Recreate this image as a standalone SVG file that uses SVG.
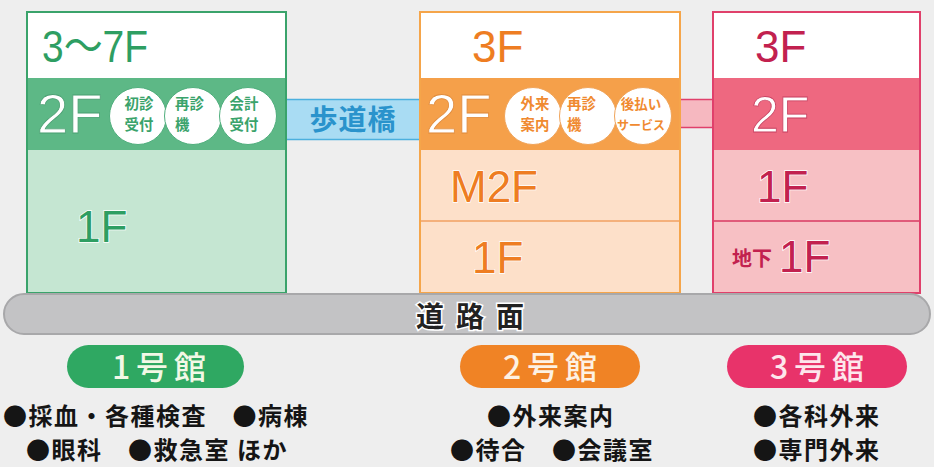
<svg xmlns="http://www.w3.org/2000/svg" width="934" height="467" viewBox="0 0 934 467">
<style>
.lat{font-family:"Liberation Sans","Noto Sans CJK JP",Arial,sans-serif;}
.jp{font-family:"Noto Sans CJK JP","Liberation Sans",sans-serif;}
.fl{font-size:44px;paint-order:stroke;stroke:#ffffff;stroke-width:1.5px;}
.big2{font-size:56px;fill:#ffffff;}
.ctx{font-size:14.4px;font-weight:700;}
.bul{font-size:24px;font-weight:700;fill:#151515;letter-spacing:1.5px;}
.pill{font-size:32px;font-weight:500;letter-spacing:6px;}
</style>
<rect x="0" y="0" width="934" height="467" fill="#eeeeee"/>

<g id="connectors">
  <rect x="286" y="99" width="134" height="41" fill="#a9dcf3"/>
  <line x1="286" y1="99.5" x2="420" y2="99.5" stroke="#4cb0de" stroke-width="1.5"/>
  <line x1="286" y1="139.5" x2="420" y2="139.5" stroke="#4cb0de" stroke-width="1.5"/>
  <text class="jp" x="353" y="130" font-size="28" font-weight="700" fill="#2a93cc" text-anchor="middle" letter-spacing="1">歩道橋</text>
  <rect x="680" y="99" width="33" height="29" fill="#f6b8c0"/>
  <line x1="680" y1="99.5" x2="713" y2="99.5" stroke="#e0406b" stroke-width="1.5"/>
  <line x1="680" y1="127.5" x2="713" y2="127.5" stroke="#e0406b" stroke-width="1.5"/>
</g>

<g id="building1">
  <rect x="27" y="12" width="259" height="281" fill="#c5e6d2"/>
  <rect x="27" y="12" width="259" height="66" fill="#ffffff"/>
  <rect x="27" y="78" width="259" height="72" fill="#5db886"/>
  <rect x="27" y="12" width="259" height="281" fill="none" stroke="#3aa36b" stroke-width="2"/>
  <text class="lat fl" x="42" y="62" fill="#2e9e62" textLength="106" lengthAdjust="spacingAndGlyphs">3〜7F</text>
  <text class="lat big2" x="37" y="133" stroke="#4a9f72" stroke-width="0.8">2F</text>
  <g stroke="#4fae7c" stroke-width="1" fill="#ffffff">
    <circle cx="138" cy="116" r="28.5"/>
    <circle cx="193" cy="116" r="28.5"/>
    <circle cx="248" cy="116" r="28.5"/>
  </g>
  <g class="jp ctx" fill="#3aa36b">
    <text text-anchor="middle"><tspan x="139" y="109">初診</tspan><tspan x="139" y="130">受付</tspan></text>
    <text><tspan x="175" y="109">再診</tspan><tspan x="175" y="130">機</tspan></text>
    <text text-anchor="middle"><tspan x="244" y="109">会計</tspan><tspan x="244" y="130">受付</tspan></text>
  </g>
  <text class="lat fl" x="76" y="242" fill="#2e9e62">1F</text>
</g>

<g id="building2">
  <rect x="420" y="12" width="260" height="281" fill="#fde0c9"/>
  <rect x="420" y="12" width="260" height="66" fill="#ffffff"/>
  <rect x="420" y="78" width="260" height="72" fill="#f5a04a"/>
  <line x1="420" y1="221" x2="680" y2="221" stroke="#f0a060" stroke-width="1.5"/>
  <rect x="420" y="12" width="260" height="281" fill="none" stroke="#f5a54a" stroke-width="2"/>
  <text class="lat fl" x="472" y="62" fill="#ee7d22">3F</text>
  <text class="lat big2" x="426" y="133" stroke="#e08a3a" stroke-width="0.8">2F</text>
  <g stroke="#f0a45a" stroke-width="1" fill="#ffffff">
    <circle cx="533" cy="116" r="28.5"/>
    <circle cx="588" cy="116" r="28.5"/>
    <circle cx="643" cy="116" r="28.5"/>
  </g>
  <g class="jp ctx" fill="#f08a30">
    <text text-anchor="middle"><tspan x="535" y="109">外来</tspan><tspan x="535" y="130">案内</tspan></text>
    <text><tspan x="567" y="109">再診</tspan><tspan x="567" y="130">機</tspan></text>
    <text text-anchor="middle"><tspan x="641" y="109" font-size="13.5">後払い</tspan><tspan x="641" y="130" font-size="12">サービス</tspan></text>
  </g>
  <text class="lat fl" x="450" y="202" fill="#ee7d22">M2F</text>
  <text class="lat fl" x="472" y="273" fill="#ee7d22">1F</text>
</g>

<g id="building3">
  <rect x="713" y="12" width="207" height="281" fill="#f7c0c4"/>
  <rect x="713" y="12" width="207" height="66" fill="#ffffff"/>
  <rect x="713" y="78" width="207" height="72" fill="#ee6880"/>
  <line x1="713" y1="221" x2="920" y2="221" stroke="#d83a62" stroke-width="1.5"/>
  <rect x="713" y="12" width="207" height="281" fill="none" stroke="#e0406b" stroke-width="2"/>
  <text class="lat fl" x="755" y="62" fill="#c2214f">3F</text>
  <text class="lat" x="751" y="132" font-size="50" fill="#ffffff" stroke="#c84060" stroke-width="0.8">2F</text>
  <text class="lat fl" x="757" y="202" fill="#c2214f">1F</text>
  <text class="jp" x="732" y="266" font-size="20" font-weight="700" fill="#c2214f">地下</text>
  <text class="lat fl" x="779" y="272" fill="#c2214f">1F</text>
</g>

<g id="road">
  <rect x="4" y="294" width="926" height="40" rx="20" fill="#c3c3c5" stroke="#a8a8aa" stroke-width="2"/>
  <text class="jp" x="476" y="327" font-size="28" font-weight="700" fill="#222222" stroke="#ffffff" stroke-width="3" paint-order="stroke" text-anchor="middle" letter-spacing="12">道路面</text>
</g>

<g id="label1">
  <rect x="67" y="345" width="177" height="43" rx="21.5" fill="#2fa862"/>
  <text class="jp pill" x="162" y="379" fill="#f2f8e6" text-anchor="middle">1号館</text>
  <text class="jp bul" x="3" y="425">●採血・各種検査　●病棟</text>
  <text class="jp bul" x="26" y="459">●眼科　●救急室 ほか</text>
</g>

<g id="label2">
  <rect x="460" y="345" width="180" height="43" rx="21.5" fill="#f08325"/>
  <text class="jp pill" x="553" y="379" fill="#fdf1e3" text-anchor="middle">2号館</text>
  <text class="jp bul" x="487" y="425">●外来案内</text>
  <text class="jp bul" x="450" y="459">●待合　●会議室</text>
</g>

<g id="label3">
  <rect x="727" y="345" width="180" height="43" rx="21.5" fill="#e8336a"/>
  <text class="jp pill" x="820" y="379" fill="#fde6ec" text-anchor="middle">3号館</text>
  <text class="jp bul" x="753" y="425">●各科外来</text>
  <text class="jp bul" x="753" y="459">●専門外来</text>
</g>
</svg>
